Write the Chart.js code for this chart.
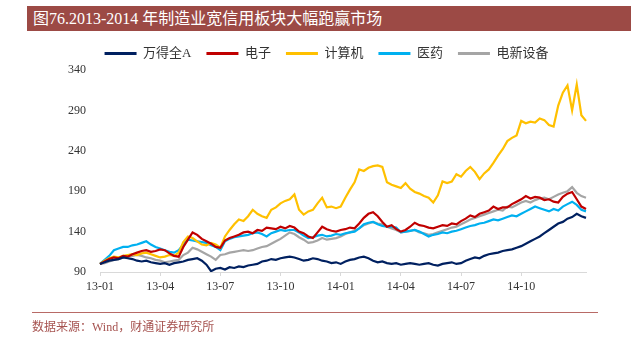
<!DOCTYPE html>
<html>
<head>
<meta charset="utf-8">
<script src="https://cdn.jsdelivr.net/npm/chart.js@4.4.0/dist/chart.umd.min.js"></script>
<style>
  body { margin: 0; width: 631px; height: 339px; background: #fff; position: relative; overflow: hidden;
         font-family: 'Liberation Serif', 'Noto Sans CJK SC', serif; }
  #wrap { position: absolute; left: 0; top: 0; width: 631px; height: 339px; }
  #title { position: absolute; left: 27px; top: 6px; width: 604px; height: 25px; background: #9c4a45;
           color: #fff; font-size: 16px; line-height: 25px; padding-left: 6px; box-sizing: border-box; }
  #src { position: absolute; left: 32px; top: 312px; width: 566px; border-top: 1px solid #b86a66;
         color: #a65350; font-size: 12px; padding-top: 4px; }
</style>
</head>
<body>
<div id="wrap"><canvas id="chart" width="631" height="339"></canvas></div>
<div id="title">图76.2013-2014 年制造业宽信用板块大幅跑赢市场</div>
<div id="src">数据来源：Wind，财通证券研究所</div>
<script>
// weekly observations, 2013-01-04 onwards
const categories = [];
const firstDay = Date.UTC(2013, 0, 4);
for (let i = 0; i < 106; i++) {
  categories.push(new Date(firstDay + i * 7 * 86400000).toISOString().slice(0, 10));
}

const seriesNames = ['万得全A', '电子', '计算机', '医药', '电新设备'];
const seriesColors = ['#002060', '#c00000', '#ffc000', '#00b0f0', '#a5a5a5'];

const wind = [100,102,104,105,106, 108,107,106,104, 103,104,102,101, 100,101,99,101,102,
  103,105,106, 107,104,99,91, 94,95,93,96, 95,97,96,98,99, 100,103,104,106,
  105,107,108,109, 108,106,104,105,107, 106,104,103,101, 102,100,103,
  105,106,108,109, 107,104,102,103,101, 100,101,99,100, 101,100,99,100,
  101,99,98,100,101, 102,100,101,104, 106,108,107,110, 112,113,114,116,
  117,118,120,122, 125,128,131,134, 138,142,146,150,152, 156,158,162,159,157];

const electronics = [100,103,106,108,107, 110,109,112,114, 116,117,115,116, 118,117,113,110,109,
  121,130,139, 136,131,128,125, 121,120,129,132, 134,136,139,140,138, 142,141,145,144,
  143,146,144,147, 145,140,138,134,132, 139,146,143,141, 140,142,143,
  145,144,150,157, 162,164,159,152,146, 148,143,140,142, 146,151,148,147,
  145,144,146,148,147, 150,149,153,156, 160,158,162,164, 166,171,168,170,
  170,174,177,180, 184,181,183,182, 179,180,177,176,183, 187,189,180,171,168];

const computer = [100,104,107,109,108, 110,111,112,111, 113,114,112,110, 108,109,111,110,114,
  127,134,132, 128,124,123,126, 124,120,134,142, 149,155,153,159,167, 162,159,157,167,
  170,175,178,180, 186,167,161,165,167, 175,182,170,171, 169,171,182,
  192,201,217,215, 219,221,222,220,201, 198,196,194,200, 193,189,187,184,
  182,176,185,202,200, 202,211,208,215, 220,214,205,212, 217,225,234,242,
  252,256,259,277, 274,276,275,280, 278,272,270,296,312, 321,290,322,284,277];

const pharma = [100,105,110,117,119, 121,121,123,124, 126,128,124,121, 119,117,115,114,117,
  124,130,129, 128,127,126,123, 121,117,128,131, 133,134,135,136,138, 139,137,134,138,
  140,142,141,142, 142,139,135,132,133, 135,136,134,135, 137,136,138,
  139,140,144,149, 151,152,149,147,146, 146,145,139,140, 141,142,140,137,
  134,136,137,139,138, 140,141,143,145, 147,148,150,151, 153,155,154,156,
  158,160,159,162, 165,168,171,169, 167,165,168,166,171, 174,177,173,167,165];

const powerEquip = [100,101,103,105,106, 108,109,110,111, 110,108,107,105, 104,102,103,104,105,
  111,114,120, 118,115,112,109, 105,111,112,114, 115,116,117,116,117, 119,121,122,125,
  128,131,135,139, 137,133,130,126,127, 129,132,130,131, 132,134,137,
  139,141,144,148, 150,152,150,149,146, 144,142,139,140, 141,142,139,138,
  136,137,139,141,143, 145,146,149,152, 155,157,159,161, 163,165,167,166,
  171,170,173,176, 178,176,179,181, 182,180,183,186,188, 190,195,188,184,182];

const yTicks = [90, 140, 190, 240, 290, 340];

const allSeries = [wind, electronics, computer, pharma, powerEquip];

function isQuarterStart(i) {
  const d = categories[i];
  const m = +d.slice(5, 7), day = +d.slice(8, 10);
  return d < '2015' && (m - 1) % 3 === 0 && day <= 7;
}

const serifFont = "'Liberation Serif', 'Noto Sans CJK SC', serif";

new Chart(document.getElementById('chart'), {
  type: 'line',
  data: {
    labels: categories,
    datasets: allSeries.map((vals, k) => ({
      label: seriesNames[k],
      data: vals,
      borderColor: seriesColors[k],
      backgroundColor: seriesColors[k],
      borderWidth: 2.2,
      pointRadius: 0,
      fill: false,
      tension: 0
    }))
  },
  options: {
    responsive: false,
    animation: false,
    layout: { padding: { left: 67, right: 45, top: 32, bottom: 25 } },
    plugins: {
      tooltip: { enabled: false },
      legend: {
        position: 'top',
        labels: {
          boxWidth: 32,
          boxHeight: 3,
          padding: 15,
          color: '#333',
          font: { family: serifFont, size: 13 },
          generateLabels: (chart) => Chart.defaults.plugins.legend.labels.generateLabels(chart)
            .map(item => Object.assign(item, { lineWidth: 0 }))
        }
      }
    },
    scales: {
      x: {
        afterBuildTicks: (scale) => { scale.ticks = scale.ticks.filter(t => isQuarterStart(t.value)); },
        afterFit: (scale) => { scale.height = 42; },
        grid: { display: true, drawOnChartArea: false, tickLength: 4, color: '#d9d9d9' },
        border: { display: true, color: '#d9d9d9' },
        ticks: {
          autoSkip: false,
          maxRotation: 0,
          padding: 4,
          color: '#333',
          font: { family: serifFont, size: 12 },
          callback: (v) => categories[v].slice(2, 7)
        }
      },
      y: {
        min: yTicks[0],
        max: yTicks[yTicks.length - 1],
        afterFit: (scale) => { scale.width = 33; },
        afterBuildTicks: (scale) => { scale.ticks = yTicks.map(v => ({ value: v })); },
        grid: { display: false, drawTicks: false },
        border: { display: false },
        ticks: {
          padding: 14,
          color: '#333',
          font: { family: serifFont, size: 12 }
        }
      }
    }
  }
});
</script>
</body>
</html>
